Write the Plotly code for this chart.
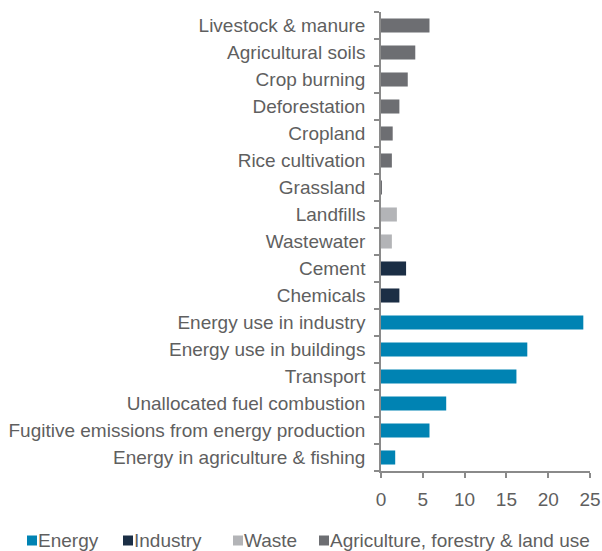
import plotly.graph_objects as go

categories = ["Livestock & manure", "Agricultural soils", "Crop burning", "Deforestation",
              "Cropland", "Rice cultivation", "Grassland", "Landfills", "Wastewater",
              "Cement", "Chemicals", "Energy use in industry", "Energy use in buildings",
              "Transport", "Unallocated fuel combustion",
              "Fugitive emissions from energy production", "Energy in agriculture & fishing"]

energy_cats = ["Energy use in industry", "Energy use in buildings", "Transport",
               "Unallocated fuel combustion", "Fugitive emissions from energy production",
               "Energy in agriculture & fishing"]
energy_vals = [24.2, 17.5, 16.2, 7.8, 5.8, 1.7]

industry_cats = ["Cement", "Chemicals"]
industry_vals = [3.0, 2.2]

waste_cats = ["Landfills", "Wastewater"]
waste_vals = [1.9, 1.3]

agri_cats = ["Livestock & manure", "Agricultural soils", "Crop burning", "Deforestation",
             "Cropland", "Rice cultivation", "Grassland"]
agri_vals = [5.8, 4.1, 3.2, 2.2, 1.4, 1.3, 0.1]

x_ticks = [0, 5, 10, 15, 20, 25]

series_names = ["Energy", "Industry", "Waste", "Agriculture, forestry & land use"]
series_colors = ["#0083B3", "#1B2E45", "#B3B4B7", "#6D6E72"]
series_cats = [energy_cats, industry_cats, waste_cats, agri_cats]
series_vals = [energy_vals, industry_vals, waste_vals, agri_vals]

# layout geometry (pixels)
W, H = 602, 551
L, R, T, B = 381, 12, 12, 80
PW = W - L - R
PH = H - T - B
TEXT = "#5f5f5f"
AXIS = "#8a8a8a"

def px_x(p):
    return (p - L) / PW

def px_y(p):
    return (H - B - p) / PH

# legend entry pixel positions (square left edge)
legend_sq_x = [27, 123, 233, 319]

fig = go.Figure()
for name, cats, vals, col in zip(series_names, series_cats, series_vals, series_colors):
    fig.add_trace(go.Bar(
        y=cats, x=vals, name=name, orientation="h",
        marker=dict(color=col, line=dict(width=0)),
        showlegend=False,
    ))

shapes = []
annotations = []
for name, col, sx in zip(series_names, series_colors, legend_sq_x):
    shapes.append(dict(type="rect", xref="paper", yref="paper",
                       x0=px_x(sx), x1=px_x(sx + 10), y0=px_y(545.5), y1=px_y(535.5),
                       fillcolor=col, line=dict(width=0)))
    annotations.append(dict(xref="paper", yref="paper", x=px_x(sx + 9), y=px_y(540),
                            text=name, showarrow=False, xanchor="left", yanchor="middle",
                            xshift=0, font=dict(size=19, color=TEXT)))

fig.update_layout(
    width=W, height=H,
    margin=dict(l=L, r=R, t=T, b=B, autoexpand=False),
    paper_bgcolor="white", plot_bgcolor="white",
    barmode="relative", bargap=0.48,
    font=dict(family="Liberation Sans, Arial, sans-serif", size=19, color=TEXT),
    showlegend=False,
    shapes=shapes, annotations=annotations,
)
fig.update_yaxes(
    automargin=False,
    categoryorder="array", categoryarray=categories[::-1],
    showline=True, linecolor=AXIS, linewidth=1.5,
    ticks="outside", ticklen=5, tickcolor=AXIS, tickwidth=1.5,
    tickson="boundaries", showgrid=False, ticklabelstandoff=10,
    tickfont=dict(size=19, color=TEXT),
)
fig.update_xaxes(
    automargin=False,
    range=[0, 25], tickvals=x_ticks,
    showline=True, linecolor=AXIS, linewidth=1.5,
    ticks="outside", ticklen=5, tickcolor=AXIS, tickwidth=1.5,
    showgrid=False, zeroline=False, ticklabelstandoff=5,
    tickfont=dict(size=19, color=TEXT),
)

fig.write_html("out.html")
